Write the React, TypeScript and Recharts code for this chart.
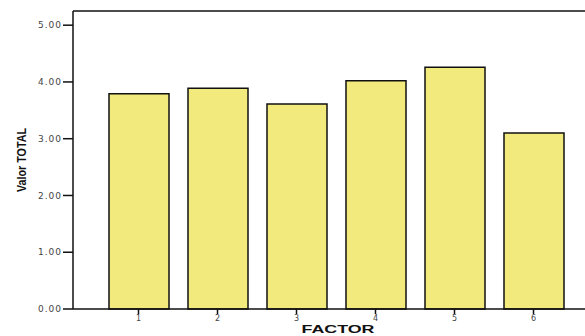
import React from 'react';
import { BarChart, Bar, XAxis, YAxis, ReferenceLine } from 'recharts';

const factors = ['1', '2', '3', '4', '5', '6'];
const totals = [3.79, 3.89, 3.61, 4.02, 4.26, 3.1];
const yTicks = [0, 1, 2, 3, 4, 5];

const data = factors.map((f, i) => ({ factor: f, total: totals[i] }));

const yTickFont = { fontFamily: 'DejaVu Sans, Arial, sans-serif', fontSize: 9, fill: '#444', letterSpacing: 1 };
const xTickFont = { fontFamily: 'DejaVu Sans, Arial, sans-serif', fontSize: 8, fill: '#444' };

const YTitle = () => (
  <text
    x={26}
    y={160}
    transform="rotate(-90 26 160)"
    textAnchor="middle"
    fontFamily="Arial, 'Liberation Sans', sans-serif"
    fontWeight="bold"
    fontSize={12}
    textLength={64}
    lengthAdjust="spacingAndGlyphs"
    fill="#111"
  >
    Valor TOTAL
  </text>
);

const XTitle = () => (
  <text
    x={338}
    y={333}
    textAnchor="middle"
    fontFamily="Arial, 'Liberation Sans', sans-serif"
    fontWeight="bold"
    fontSize={11}
    textLength={73}
    lengthAdjust="spacingAndGlyphs"
    fill="#111"
  >
    FACTOR
  </text>
);

export default function App() {
  return (
    <div style={{ position: 'absolute', left: 0, top: 0, width: 585, height: 336, background: '#fff' }}>
      <BarChart width={585} height={336} data={data} margin={{ top: 11, right: 0, bottom: 0, left: 0 }}>
        <XAxis
          dataKey="factor"
          padding={{ left: 26, right: 12 }}
          stroke="#111"
          strokeWidth={1.5}
          tickSize={5}
          tickMargin={1}
          tick={xTickFont}
          height={27}
          label={{ content: () => <XTitle /> }}
        />
        <YAxis
          width={73}
          domain={[0, 5.25]}
          ticks={yTicks}
          tickFormatter={(v: number) => v.toFixed(2)}
          stroke="#111"
          strokeWidth={1.5}
          tickSize={10}
          tickMargin={1}
          tick={yTickFont}
          label={{ content: () => <YTitle /> }}
        />
        <ReferenceLine y={5.25} stroke="#111" strokeWidth={1.5} />
        <Bar dataKey="total" fill="#f2ea7c" stroke="#111" strokeWidth={1.5} barSize={60} isAnimationActive={false} />
      </BarChart>
    </div>
  );
}
